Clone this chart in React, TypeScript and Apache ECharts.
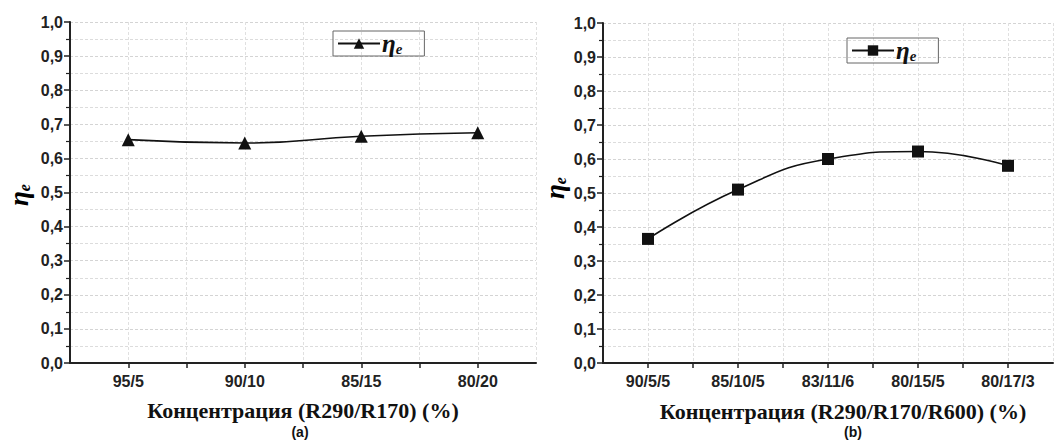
import React, { useEffect, useRef } from "react";
import * as echarts from "echarts";

const catsA = ["95/5", "90/10", "85/15", "80/20"];
const valsA = [0.655, 0.645, 0.665, 0.675];
const catsB = ["90/5/5", "85/10/5", "83/11/6", "80/15/5", "80/17/3"];
const valsB = [0.365, 0.51, 0.6, 0.622, 0.58];
const titleA = "Концентрация (R290/R170) (%)";
const titleB = "Концентрация (R290/R170/R600) (%)";

const LABEL_FONT = "'Liberation Sans', Arial, sans-serif";
const SERIF = "'Liberation Serif', 'Times New Roman', serif";

const legendRich = {
  eta: { fontFamily: SERIF, fontSize: 25, fontWeight: "bold", fontStyle: "italic", color: "#111", lineHeight: 24 },
  sub: { fontFamily: SERIF, fontSize: 15, fontWeight: "bold", fontStyle: "italic", color: "#111", lineHeight: 24, padding: [10, 0, 0, 0] },
};
const axisRich = {
  eta: { fontFamily: SERIF, fontSize: 27, fontWeight: "bold", fontStyle: "italic", color: "#111", lineHeight: 26 },
  sub: { fontFamily: SERIF, fontSize: 16, fontWeight: "bold", fontStyle: "italic", color: "#111", lineHeight: 26, padding: [10, 0, 0, 0] },
};

function xAxisFor(cats: string[], gridIndex: number) {
  return {
    type: "value",
    gridIndex,
    min: 0.5,
    max: cats.length + 0.5,
    interval: 0.5,
    axisLine: { show: true, lineStyle: { color: "#222", width: 2 } },
    axisTick: { show: true, length: 5, lineStyle: { color: "#222", width: 1.5 } },
    axisLabel: {
      margin: 10,
      color: "#222",
      fontFamily: LABEL_FONT,
      fontWeight: "bold",
      fontSize: 16,
      showMaxLabel: false,
      showMinLabel: false,
      formatter: (v: number) => (Number.isInteger(v) && v >= 1 && v <= cats.length ? cats[v - 1] : ""),
    },
    splitLine: { show: true, lineStyle: { color: "#e0e0e0", type: [3, 2], width: 1 } },
  };
}

function yAxisFor(gridIndex: number) {
  return {
    type: "value",
    gridIndex,
    min: 0,
    max: 1,
    interval: 0.1,
    axisLine: { show: true, lineStyle: { color: "#222", width: 2 } },
    axisTick: { show: true, length: 6, lineStyle: { color: "#222", width: 1.5 } },
    minorTick: { show: true, splitNumber: 2, length: 4, lineStyle: { color: "#222", width: 1.2 } },
    axisLabel: {
      margin: 7,
      color: "#222",
      fontFamily: LABEL_FONT,
      fontWeight: "bold",
      fontSize: 16,
      formatter: (v: number) => v.toFixed(1).replace(".", ","),
    },
    splitLine: { show: true, lineStyle: { color: "#d4d4d4", type: [3, 2], width: 1 } },
    minorSplitLine: { show: true, lineStyle: { color: "#dcdcdc", type: [3, 2], width: 1 } },
  };
}

function legendFor(name: string, left: number, top: number) {
  return {
    data: [name],
    left,
    top,
    orient: "horizontal",
    borderColor: "#666",
    borderWidth: 1,
    borderRadius: 0,
    padding: [0, 22, 0, 4],
    itemWidth: 42,
    itemHeight: 13,
    itemGap: 4,
    selectedMode: false,
    formatter: () => "{eta|η}{sub|e}",
    textStyle: { rich: legendRich, padding: [0, 0, 0, -3] },
  };
}

export default function App() {
  const ref = useRef<HTMLDivElement>(null);
  useEffect(() => {
    if (!ref.current) return;
    const chart = echarts.init(ref.current, null, { renderer: "svg" });
    const option: any = {
      animation: false,
      backgroundColor: "#fff",
      grid: [
        { left: 70, top: 22, width: 466, height: 341 },
        { left: 603, top: 23, width: 450, height: 340 },
      ],
      xAxis: [xAxisFor(catsA, 0), xAxisFor(catsB, 1)],
      yAxis: [yAxisFor(0), yAxisFor(1)],
      legend: [legendFor("a", 333, 31), legendFor("b", 847, 38)],
      series: [
        {
          name: "a",
          type: "line",
          xAxisIndex: 0,
          yAxisIndex: 0,
          smooth: 0.5,
          symbol: "triangle",
          symbolSize: 13,
          lineStyle: { color: "#111", width: 1.6 },
          itemStyle: { color: "#111" },
          data: valsA.map((v, i) => [i + 1, v]),
        },
        {
          name: "b",
          type: "line",
          xAxisIndex: 1,
          yAxisIndex: 1,
          smooth: 0.5,
          symbol: "rect",
          symbolSize: 12,
          lineStyle: { color: "#111", width: 1.6 },
          itemStyle: { color: "#111" },
          data: valsB.map((v, i) => [i + 1, v]),
        },
      ],
      graphic: [
        {
          type: "text",
          x: 303,
          y: 410,
          style: { text: titleA, font: `bold 22px ${SERIF}`, fill: "#111", align: "center", verticalAlign: "middle" },
        },
        {
          type: "text",
          x: 843,
          y: 411,
          style: { text: titleB, font: `bold 22px ${SERIF}`, fill: "#111", align: "center", verticalAlign: "middle" },
        },
        {
          type: "text",
          x: 300,
          y: 432,
          style: { text: "(a)", font: `bold 14px ${LABEL_FONT}`, fill: "#111", align: "center", verticalAlign: "middle" },
        },
        {
          type: "text",
          x: 853,
          y: 432,
          style: { text: "(b)", font: `bold 14px ${LABEL_FONT}`, fill: "#111", align: "center", verticalAlign: "middle" },
        },
        {
          type: "text",
          x: 19,
          y: 195,
          rotation: Math.PI / 2,
          style: { text: "{eta|η}{sub|e}", rich: axisRich, align: "center", verticalAlign: "middle" },
        },
        {
          type: "text",
          x: 555,
          y: 188,
          rotation: Math.PI / 2,
          style: { text: "{eta|η}{sub|e}", rich: axisRich, align: "center", verticalAlign: "middle" },
        },
      ],
    };
    chart.setOption(option);
    return () => chart.dispose();
  }, []);
  return <div ref={ref} style={{ width: 1059, height: 443, position: "absolute", left: 0, top: 0 }} />;
}
